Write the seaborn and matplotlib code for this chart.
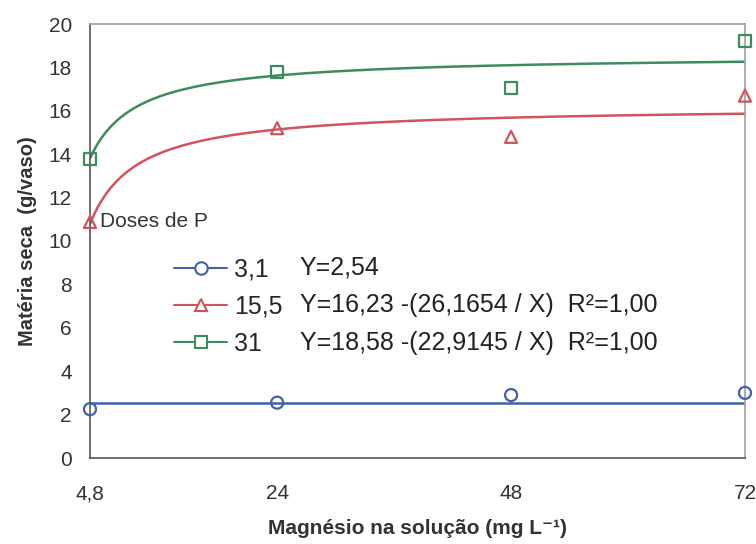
import numpy as np
import pandas as pd
import matplotlib
matplotlib.use("Agg")
import matplotlib.pyplot as plt
import seaborn as sns
from matplotlib.lines import Line2D

sns.set_theme(style="white")
plt.rcParams['font.family'] = ['Liberation Sans', 'DejaVu Sans']

# ---- data ----
mg = [4.8, 24, 48, 72]
dose_labels = ["3,1", "15,5", "31"]
obs_31 = [2.25, 2.55, 2.9, 3.0]
obs_155 = [10.88, 15.2, 14.8, 16.7]
obs_31p = [13.8, 17.8, 17.05, 19.2]
# fitted models shown in the chart: Y = a - b / X
fit_a = [2.54, 16.23, 18.58]
fit_b = [0.0, 26.1654, 22.9145]
equations = ["Y=2,54",
             "Y=16,23 -(26,1654 / X)  R²=1,00",
             "Y=18,58 -(22,9145 / X)  R²=1,00"]
x_ticks = [4.8, 24, 48, 72]
x_ticklabels = ["4,8", "24", "48", "72"]
y_ticks = list(range(0, 21, 2))

colors = ["#3f62a8", "#d0545a", "#3d8c5e"]
markers = ["o", "^", "s"]

obs = pd.DataFrame({
    "Mg": mg * 3,
    "MS": obs_31 + obs_155 + obs_31p,
    "Dose": [d for d in dose_labels for _ in mg],
})
xf = np.linspace(4.8, 72, 300)
fit = pd.DataFrame({
    "Mg": np.tile(xf, 3),
    "MS": np.concatenate([a - b / xf for a, b in zip(fit_a, fit_b)]),
    "Dose": np.repeat(dose_labels, len(xf)),
})

fig = plt.figure(figsize=(7.56, 5.44), dpi=100)
ax = fig.add_axes([90/756, 1-458/544, 655/756, 434/544])

pal = dict(zip(dose_labels, colors))
sns.lineplot(data=fit, x="Mg", y="MS", hue="Dose", palette=pal, ax=ax,
             linewidth=1.8, legend=False)
for d, m in zip(dose_labels, markers):
    sub = obs[obs["Dose"] == d]
    sns.scatterplot(data=sub, x="Mg", y="MS", ax=ax, marker=m, s=75,
                    facecolor="none", edgecolor=pal[d], linewidth=1.6,
                    legend=False, clip_on=False, zorder=5)

ax.set_xlim(4.8, 72)
ax.set_ylim(0, 20)
ax.set_xticks(x_ticks)
ax.set_xticklabels(x_ticklabels)
ax.set_yticks(y_ticks)
ax.tick_params(axis='x', length=0, pad=19, labelsize=15, colors="#333333")
ax.tick_params(axis='y', direction='inout', length=8, width=1, color="#777777",
               labelsize=15, labelcolor="#333333", pad=9)
for s in ["left", "bottom"]:
    ax.spines[s].set_color("#555555")
    ax.spines[s].set_linewidth(1.2)
for s in ["top", "right"]:
    ax.spines[s].set_color("#a0a0a0")
    ax.spines[s].set_linewidth(1.2)

ax.set_xlabel("Magnésio na solução (mg L⁻¹)", fontsize=15, fontweight="bold",
              color="#333333", labelpad=11)
ax.set_ylabel("Matéria seca  (g/vaso)", fontsize=14.5, fontweight="bold",
              color="#333333", labelpad=8)

handles = [Line2D([0], [0], color=c, marker=m, markersize=9, markerfacecolor="white",
                  markeredgecolor=c, markeredgewidth=1.5, linewidth=1.5)
           for c, m in zip(colors, markers)]
ax.legend(handles, dose_labels, loc="upper left", bbox_to_anchor=(0.102, 0.502),
          frameon=False, fontsize=18, handlelength=2.1, handletextpad=0.28,
          labelspacing=0.52, borderpad=0.2)
ax.text(0.015, 0.544, "Doses de P", transform=ax.transAxes, fontsize=15,
        color="#333333", va="center", ha="left")
for i, eq in enumerate(equations):
    ax.text(0.32, 0.44 - i * 0.0875, eq, transform=ax.transAxes, fontsize=18,
            color="#222222", va="center", ha="left")

fig.savefig("out.png", dpi=100)
